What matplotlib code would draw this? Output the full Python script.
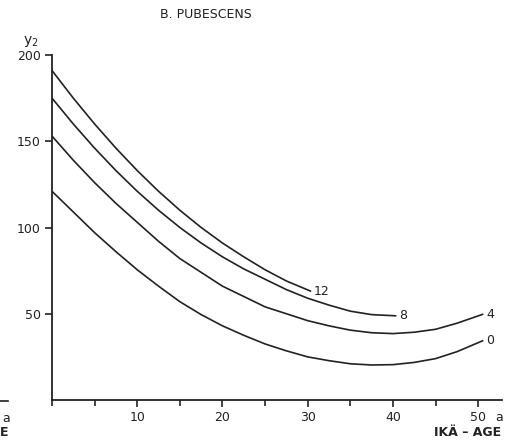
import numpy as np
import matplotlib
matplotlib.use("Agg")
import matplotlib.pyplot as plt
from matplotlib.ticker import MultipleLocator

# values (age in years, y2)
x_12 = [0, 2.5, 5, 7.5, 10, 12.5, 15, 17.5, 20, 22.5, 25, 27.5, 30.4]
y_12 = [191, 175, 160, 146, 133, 121, 110, 100, 91, 83, 75.5, 69, 63]

x_8 = [0, 2.5, 5, 7.5, 10, 12.5, 15, 17.5, 20, 22.5, 25, 27.5, 30, 32.5, 35, 37.5, 40.4]
y_8 = [175, 160, 146, 133, 121, 110, 100, 91, 83, 76, 70, 64, 59, 55, 51.5, 49.5, 48.8]

x_4 = [0, 2.5, 5, 7.5, 10, 12.5, 15, 17.5, 20, 22.5, 25, 27.5, 30, 32.5, 35, 37.5,
       40, 42.5, 45, 47.5, 50.6]
y_4 = [153, 139, 126, 114, 103, 92, 82, 74, 66, 60, 54, 50, 46, 43, 40.5, 39,
       38.5, 39.3, 41, 44.5, 49.8]

x_0 = [0, 2.5, 5, 7.5, 10, 12.5, 15, 17.5, 20, 22.5, 25, 27.5, 30, 32.5, 35, 37.5,
       40, 42.5, 45, 47.5, 50.6]
y_0 = [121, 109, 97, 86, 75.5, 66, 57, 49.5, 43, 37.5, 32.5, 28.5, 25, 22.8, 21, 20.3,
       20.5, 21.8, 24, 28, 34.5]

curves = [("12", x_12, y_12), ("8", x_8, y_8), ("4", x_4, y_4), ("0", x_0, y_0)]

x_ticks = [10, 20, 30, 40, 50]
x_ticklabels = ["10", "20", "30", "40", "50"]
y_ticks = [50, 100, 150, 200]

plt.rcParams['font.family'] = ['DejaVu Sans']

fig = plt.figure(figsize=(5.27, 4.42), dpi=100)
ax = fig.add_axes([0.0987, 0.095, 0.854, 0.7805])

for name, xs, ys in curves:
    ax.plot(xs, ys, color='#222222', linewidth=1.2, solid_capstyle='butt',
            solid_joinstyle='round')
    ax.annotate(name, (xs[-1], ys[-1]), xytext=(2, 0), textcoords='offset points',
                ha='left', va='center', fontsize=9, color='#222222')

ax.set_xlim(0, 52.8)
ax.set_ylim(0, 200)
ax.spines['top'].set_visible(False)
ax.spines['right'].set_visible(False)
for s in ['left', 'bottom']:
    ax.spines[s].set_linewidth(1.3)
    ax.spines[s].set_color('#222222')

ax.set_xticks(x_ticks)
ax.set_xticklabels(x_ticklabels)
ax.xaxis.set_minor_locator(MultipleLocator(5))
ax.set_yticks(y_ticks)
ax.tick_params(axis='both', which='major', direction='out', length=5, width=1.2,
               labelsize=9, colors='#222222', pad=3)
ax.tick_params(axis='x', which='minor', direction='out', length=4, width=1.2, colors='#222222')

# unit "a" after the last tick label
ax.annotate("a", (52.4, 0), xycoords=('data', 'axes fraction'), xytext=(0, -8),
            textcoords='offset points', ha='center', va='top', fontsize=9, color='#222222')

fig.text(0.043, 0.905, "y$_2$", fontsize=10, color='#222222', ha='left', va='center')
fig.text(0.39, 0.968, "B. PUBESCENS", fontsize=9, color='#222222', ha='center', va='center')
fig.text(0.95, 0.022, "IKÄ – AGE", fontsize=9, fontweight='bold', color='#222222',
         ha='right', va='center')

# bits of the neighbouring figure cut at the left edge
fig.add_artist(plt.Line2D([0, 0.016], [0.093, 0.093], color='#222222', linewidth=1.2))
fig.text(0.004, 0.053, "a", fontsize=9, color='#222222', ha='left', va='center')
fig.text(0.0, 0.022, "E", fontsize=9, fontweight='bold', color='#222222', ha='left', va='center')

fig.savefig("out.png", dpi=100)
